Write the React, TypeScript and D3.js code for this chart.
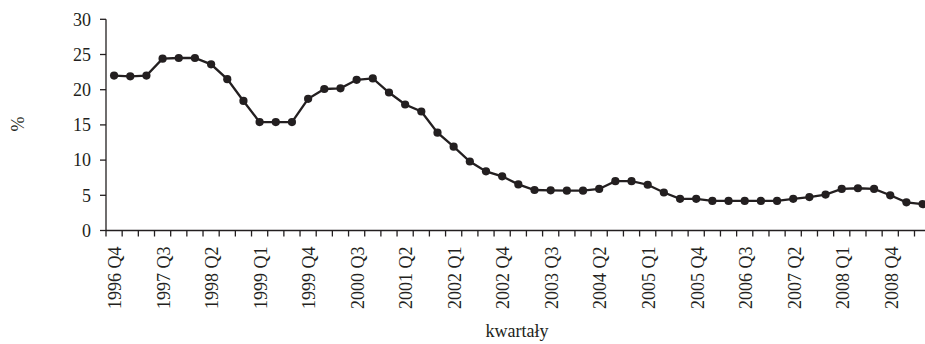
import React from "react";
import * as d3 from "d3";

const startYear = 1996;
const startQuarter = 4;
const values: number[] = [
  22.0, 21.9, 22.0, 24.4, 24.5, 24.5, 23.6, 21.5, 18.4, 15.4, 15.4, 15.4, 18.7,
  20.1, 20.2, 21.4, 21.6, 19.6, 17.9, 16.9, 13.9, 11.9, 9.8, 8.4, 7.7, 6.55,
  5.75, 5.7, 5.65, 5.65, 5.9, 7.0, 7.0, 6.5, 5.4, 4.5, 4.5, 4.2, 4.2, 4.2, 4.2,
  4.2, 4.5, 4.75, 5.1, 5.9, 6.0, 5.9, 5.0, 4.0, 3.75,
];
const categories: string[] = values.map((_, i) => {
  const q = startQuarter - 1 + i;
  return `${startYear + Math.floor(q / 4)} Q${(q % 4) + 1}`;
});
const yTicks = [0, 5, 10, 15, 20, 25, 30];
const yLabel = "%";
const xLabel = "kwartały";

export default function App() {
  const left = 106;
  const step = 16.17;
  const right = left + step * categories.length;
  const top = 19.3;
  const bottom = 230.5;
  const x = d3.scaleBand<string>().domain(categories).range([left, right]);
  const y = d3.scaleLinear().domain([0, 30]).range([bottom, top]);
  const cx = (c: string) => (x(c) as number) + x.bandwidth() / 2;
  const line = d3
    .line<number>()
    .x((_, i) => cx(categories[i]))
    .y((d) => y(d));
  const font = "'Liberation Serif', 'Times New Roman', serif";
  const color = "#231f20";
  return (
    <svg
      width={925}
      height={344}
      style={{ position: "absolute", left: 0, top: 0, background: "#fff" }}
      fontFamily={font}
    >
      {/* y axis */}
      <line x1={left} x2={left} y1={top} y2={bottom} stroke={color} strokeWidth={1.3} />
      {yTicks.map((t) => (
        <g key={t}>
          <line x1={left - 6} x2={left} y1={y(t)} y2={y(t)} stroke={color} strokeWidth={1.3} />
          <text x={91} y={y(t)} dy="0.35em" textAnchor="end" fontSize={18} fill={color}>
            {t}
          </text>
        </g>
      ))}
      {/* x axis */}
      <line x1={left} x2={right} y1={bottom} y2={bottom} stroke={color} strokeWidth={1.3} />
      {d3.range(categories.length + 1).map((i) => (
        <line
          key={i}
          x1={left + i * x.step()}
          x2={left + i * x.step()}
          y1={bottom}
          y2={bottom + 6}
          stroke={color}
          strokeWidth={1.3}
        />
      ))}
      {categories.map((c, i) =>
        i % 3 === 0 ? (
          <text
            key={c}
            transform={`translate(${cx(c) + 1},246.5) rotate(-90)`}
            dy="0.35em"
            textAnchor="end"
            fontSize={18}
            fill={color}
          >
            {c}
          </text>
        ) : null
      )}
      <text x={517} y={337} textAnchor="middle" fontSize={18} fill={color}>
        {xLabel}
      </text>
      <text
        transform={`translate(17.5,124) rotate(-90)`}
        dy="0.35em"
        textAnchor="middle"
        fontSize={18}
        fill={color}
      >
        {yLabel}
      </text>
      <path d={line(values) || ""} fill="none" stroke={color} strokeWidth={2.3} />
      {values.map((v, i) => (
        <circle key={i} cx={cx(categories[i])} cy={y(v)} r={4.1} fill={color} />
      ))}
    </svg>
  );
}
